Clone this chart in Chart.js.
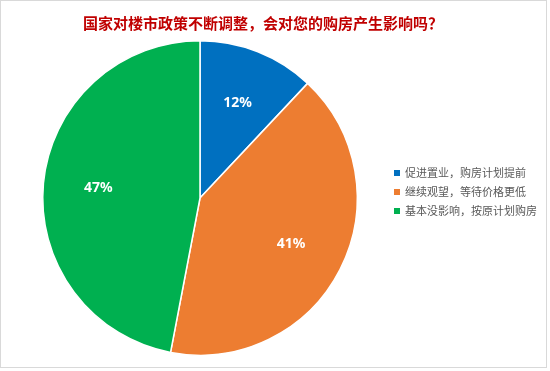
<!DOCTYPE html>
<html><head><meta charset="utf-8">
<script src="https://cdn.jsdelivr.net/npm/chart.js@4"></script>
<style>
html,body{margin:0;padding:0;background:#fff;}
#wrap{position:relative;width:550px;height:371px;}
#frame{position:absolute;left:0;top:0;width:547px;height:368px;border:1px solid #d9d9d9;box-sizing:border-box;pointer-events:none;}
canvas{position:absolute;left:0;top:0;}
#title{position:absolute;left:83px;top:13px;width:380px;font-family:"Noto Sans CJK SC",sans-serif;font-size:15px;line-height:20px;font-weight:bold;color:#C00000;white-space:nowrap;}
#legend{position:absolute;left:394px;top:163px;font-family:"Noto Sans CJK SC",sans-serif;font-size:11px;color:#595959;}
#legend div{height:19px;line-height:19px;white-space:nowrap;}
#legend span{display:inline-block;width:6px;height:6px;margin-right:5px;vertical-align:1px;}
</style></head>
<body><div id="wrap"><canvas id="c" width="550" height="371"></canvas><div id="title"></div><div id="legend"></div><div id="frame"></div></div>
<script>
const titleText = "国家对楼市政策不断调整，会对您的购房产生影响吗？";
const categories = ["促进置业，购房计划提前", "继续观望，等待价格更低", "基本没影响，按原计划购房"];
const values = [12, 41, 47];
const colors = ["#0070C0", "#ED7D31", "#00B050"];

document.getElementById('title').textContent = titleText;
const lg = document.getElementById('legend');
categories.forEach((c,i)=>{
  const d=document.createElement('div');
  d.innerHTML='<span style="background:'+colors[i]+'"></span>'+c;
  lg.appendChild(d);
});

const labelPlugin = {
  id:'sliceLabels',
  afterDatasetsDraw(chart){
    const ctx=chart.ctx;
    const meta=chart.getDatasetMeta(0);
    const total=values.reduce((a,b)=>a+b,0);
    ctx.save();
    ctx.fillStyle='#fff';
    ctx.font='bold 14px "Noto Sans", sans-serif';
    ctx.textAlign='center';ctx.textBaseline='middle';
    meta.data.forEach((arc,i)=>{
      const p=arc.getProps(['x','y','startAngle','endAngle','outerRadius'],true);
      const a=(p.startAngle+p.endAngle)/2;
      const r=p.outerRadius*0.65;
      ctx.fillText(Math.round(values[i]/total*100)+'%', p.x+Math.cos(a)*r, p.y+Math.sin(a)*r);
    });
    ctx.restore();
  }
};

new Chart(document.getElementById('c'),{
  type:'pie',
  data:{labels:categories,datasets:[{data:values,backgroundColor:colors,borderColor:'#fff',borderWidth:1.5}]},
  options:{
    responsive:false,animation:false,
    layout:{padding:{left:42,right:192,top:40,bottom:15}},
    plugins:{legend:{display:false},tooltip:{enabled:false},title:{display:false}}
  },
  plugins:[labelPlugin]
});
</script></body></html>
